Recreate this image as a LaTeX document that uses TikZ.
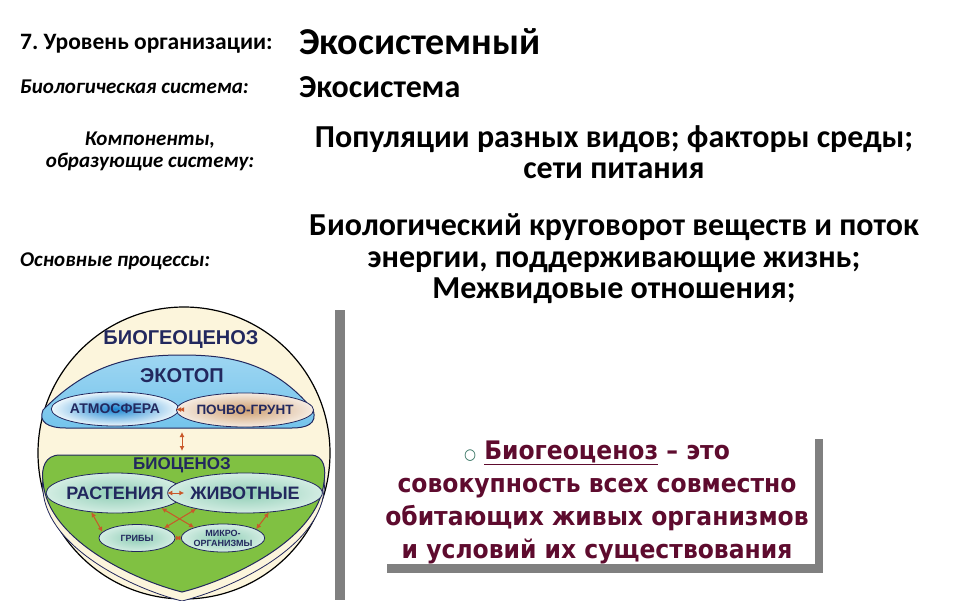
\documentclass[tikz,border=0pt]{standalone}
\usepackage{fontspec}
\setmainfont{Carlito}
\newfontfamily\schemefont{Liberation Sans}
\newfontfamily\defnfont[FakeStretch=0.92]{DejaVu Sans}
\usetikzlibrary{shapes.geometric,arrows.meta,shadows}
\frenchspacing

\definecolor{navy}{HTML}{22285E}
\definecolor{cream}{HTML}{FCF5DC}
\definecolor{ecoblue}{HTML}{74C4EC}
\definecolor{airblue}{HTML}{1C86D2}
\definecolor{biogreen}{HTML}{80C142}
\definecolor{mint}{HTML}{8FCDB5}
\definecolor{palemint}{HTML}{D3EDE3}
\definecolor{linkred}{HTML}{C9582A}
\definecolor{maroon}{HTML}{5E0B2E}
\definecolor{bulletgreen}{HTML}{2E6E5C}
\definecolor{bargray}{HTML}{808080}

\begin{document}
\begin{tikzpicture}[x=1pt,y=-1pt]
   \tikzstyle{every node}=[inner sep=0pt]
   \tikzstyle{rowname}=[font=\bfseries\itshape\fontsize{21}{22}\selectfont, align=center]
   \tikzstyle{rowvalue}=[font=\bfseries\fontsize{32}{31.5}\selectfont, align=center]
   \tikzstyle{part}=[ellipse, draw=navy, line width=0.8pt, text=navy, inner color=mint, outer color=palemint]
   \tikzstyle{link}=[{Latex[length=5pt,width=5pt]}-{Latex[length=5pt,width=5pt]}, draw=linkred, fill=linkred, line width=1pt]
   \useasboundingbox (0,0) rectangle (960,600);

\node[anchor=west, font=\bfseries\fontsize{23.5}{24}\selectfont] (level) at (20,44) {7. Уровень организации:};
\node[anchor=west, font=\bfseries\fontsize{38}{40}\selectfont] (levelval) at (299,42) {Экосистемный};
\node[rowname, anchor=west] (system) at (20,87) {Биологическая система:};
\node[anchor=west, font=\bfseries\fontsize{32}{33}\selectfont] (systemval) at (299,87) {Экосистема};
\node[rowname] (parts) at (150,151) {Компоненты,\\образующие систему:};
\node[rowvalue] (partsval) at (614,152) {Популяции разных видов; факторы среды;\\сети питания};
\node[rowname, anchor=west] (proc) at (20,261) {Основные процессы:};
\node[rowvalue] (procval) at (614,259) {Биологический круговорот веществ и поток\\энергии, поддерживающие жизнь;\\Межвидовые отношения;};

\draw[fill=cream, line width=1.2pt] (184,453) circle (146pt);
\draw[top color=ecoblue!70!white, bottom color=ecoblue, draw=navy, line width=1pt] (43,410) .. controls (90,362) and (135,355) .. (182,355)
   .. controls (229,355) and (274,362) .. (313,410) .. controls (318,424) and (306,428) .. (292,428)
   -- (66,428) .. controls (48,428) and (38,422) .. (43,410) -- cycle;
\draw[fill=cream, draw=navy, line width=0.8pt, yshift=-9pt] (60,455) -- (310,455) .. controls (325,455) and (326,470) .. (324,482)
   .. controls (318,540) and (230,580) .. (182,592) .. controls (134,580) and (48,540) .. (43,482)
   .. controls (41,468) and (45,455) .. (60,455) -- cycle;
\draw[fill=biogreen, draw=navy, line width=1pt] (60,455) -- (310,455) .. controls (325,455) and (326,470) .. (324,482)
   .. controls (318,540) and (230,580) .. (182,592) .. controls (134,580) and (48,540) .. (43,482)
   .. controls (41,468) and (45,455) .. (60,455) -- cycle;
\coordinate (ecobottom) at (182,432);
\coordinate (biotop) at (182,451);

\node[text=navy, font=\schemefont\bfseries\fontsize{20}{20}\selectfont] (biogeo) at (181,340) {БИОГЕОЦЕНОЗ};
\node[text=navy, font=\schemefont\bfseries\fontsize{20}{20}\selectfont] (ecotop) at (182,376) {ЭКОТОП};
\node[text=navy, font=\schemefont\bfseries\fontsize{17}{17}\selectfont] (biocen) at (182,465) {БИОЦЕНОЗ};

\node[part, inner color=airblue, outer color=white!88!ecoblue, minimum width=118pt, minimum height=34pt, font=\schemefont\bfseries\fontsize{14}{14}\selectfont] (air) at (115,409) {АТМОСФЕРА};
\node[part, inner color=brown!75!white, outer color=brown!15!white, minimum width=114pt, minimum height=34pt, font=\schemefont\bfseries\fontsize{13.5}{14}\selectfont] (soil) at (245,410) {ПОЧВО-ГРУНТ};
\node[part, minimum width=116pt, minimum height=40pt, font=\schemefont\bfseries\fontsize{18}{18}\selectfont] (plants) at (115,493) {РАСТЕНИЯ};
\node[part, minimum width=116pt, minimum height=40pt, font=\schemefont\bfseries\fontsize{18}{18}\selectfont] (animals) at (245,493) {ЖИВОТНЫЕ};
\node[part, minimum width=76pt, minimum height=27pt, font=\schemefont\bfseries\fontsize{9}{9}\selectfont] (fungi) at (137,538) {ГРИБЫ};
\node[part, minimum width=72pt, minimum height=28pt, align=center, font=\schemefont\bfseries\fontsize{9}{10}\selectfont] (microbes) at (223,538) {МИКРО-\\ОРГАНИЗМЫ};

\draw[link] (air) -- (soil);
\draw[link] (ecobottom) -- (biotop);
\draw[link] (plants) -- (animals);
\draw[link] (fungi) -- (microbes);
\draw[link] (plants.-18) -- (microbes.160);
\draw[link] (animals.198) -- (fungi.20);
\draw[link] (plants.-141) -- (fungi.170);
\draw[link] (animals.-39) -- (microbes.15);

\fill[bargray] (335,310) rectangle (345,600);
\node[fill=white, minimum width=436pt, minimum height=134pt,
   drop shadow={shadow xshift=8pt, shadow yshift=-9pt, fill=bargray, opacity=1}] (defnbox) at (597,497) {};
\node[align=center, text=maroon, font=\defnfont\bfseries\fontsize{25.5}{33}\selectfont] (defn) at (597,502)
   {{\fontsize{15}{15}\selectfont\color{bulletgreen}○} \underline{Биогеоценоз} – это\\совокупность всех совместно\\обитающих живых организмов\\и условий их существования};

\end{tikzpicture}
\end{document}
